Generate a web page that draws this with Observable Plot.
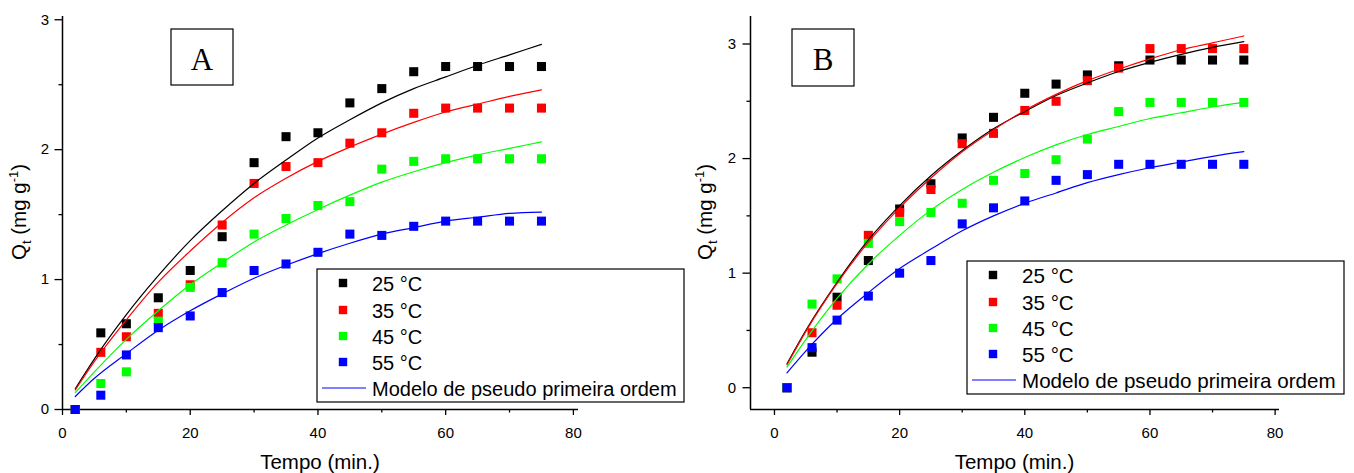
<!DOCTYPE html>
<html><head><meta charset="utf-8">
<script src="https://cdn.jsdelivr.net/npm/d3@7"></script>
<script src="https://cdn.jsdelivr.net/npm/@observablehq/plot@0.6"></script>
<style>
html,body{margin:0;padding:0;background:#fff;}
#wrap{display:flex;width:1354px;height:473px;overflow:hidden;}
#wrap svg{display:block;overflow:visible;}
</style></head><body><div id="wrap"></div>
<script>
// ---------- data ----------
const times = [2, 6, 10, 15, 20, 25, 30, 35, 40, 45, 50, 55, 60, 65, 70, 75];
const fitTimes = [2, 5, 10, 15, 20, 25, 30, 35, 40, 45, 50, 55, 60, 65, 70, 75];
const seriesLabels = ["25 °C", "35 °C", "45 °C", "55 °C"];
const seriesColors = ["#000000", "#ff0000", "#00ff00", "#0000ff"];
const modelLabel = "Modelo de pseudo primeira ordem";
const xTitle = "Tempo (min.)";
const panelNames = ["A", "B"];
const xTicks = [0, 20, 40, 60, 80];
const xMinorTicks = [10, 30, 50, 70];
const yTicks = [0, 1, 2, 3];
const yMinorTicks = [0.5, 1.5, 2.5];

// Panel A observed
const a25 = [0, 0.59, 0.66, 0.86, 1.07, 1.33, 1.90, 2.10, 2.13, 2.36, 2.47, 2.60, 2.64, 2.64, 2.64, 2.64];
const a35 = [0, 0.44, 0.56, 0.74, 0.96, 1.42, 1.74, 1.87, 1.90, 2.05, 2.13, 2.28, 2.32, 2.32, 2.32, 2.32];
const a45 = [0, 0.20, 0.29, 0.68, 0.94, 1.13, 1.35, 1.47, 1.57, 1.60, 1.85, 1.91, 1.93, 1.93, 1.93, 1.93];
const a55 = [0, 0.11, 0.42, 0.63, 0.72, 0.90, 1.07, 1.12, 1.21, 1.35, 1.34, 1.41, 1.45, 1.45, 1.45, 1.45];
// Panel A model curves
const aFit25 = [0.16, 0.39, 0.73, 1.03, 1.30, 1.53, 1.74, 1.92, 2.09, 2.23, 2.36, 2.47, 2.56, 2.65, 2.73, 2.81];
const aFit35 = [0.15, 0.37, 0.69, 0.98, 1.22, 1.44, 1.63, 1.78, 1.91, 2.02, 2.12, 2.21, 2.29, 2.35, 2.41, 2.46];
const aFit45 = [0.13, 0.29, 0.54, 0.76, 0.96, 1.13, 1.29, 1.42, 1.54, 1.65, 1.75, 1.83, 1.90, 1.96, 2.01, 2.06];
const aFit55 = [0.10, 0.24, 0.43, 0.61, 0.76, 0.89, 1.01, 1.11, 1.20, 1.28, 1.35, 1.40, 1.45, 1.48, 1.51, 1.52];

// Panel B observed
const b25 = [0, 0.31, 0.79, 1.11, 1.56, 1.78, 2.18, 2.36, 2.57, 2.65, 2.73, 2.81, 2.86, 2.86, 2.86, 2.86];
const b35 = [0, 0.48, 0.72, 1.33, 1.53, 1.73, 2.13, 2.22, 2.42, 2.50, 2.68, 2.79, 2.96, 2.96, 2.96, 2.96];
const b45 = [0, 0.73, 0.95, 1.26, 1.45, 1.53, 1.61, 1.81, 1.87, 1.99, 2.17, 2.41, 2.49, 2.49, 2.49, 2.49];
const b55 = [0, 0.35, 0.59, 0.80, 1.00, 1.11, 1.43, 1.57, 1.63, 1.81, 1.86, 1.95, 1.95, 1.95, 1.95, 1.95];
// Panel B model curves
const bFit25 = [0.21, 0.50, 0.92, 1.29, 1.59, 1.85, 2.07, 2.26, 2.41, 2.55, 2.66, 2.76, 2.84, 2.91, 2.97, 3.02];
const bFit35 = [0.20, 0.49, 0.91, 1.27, 1.57, 1.83, 2.06, 2.25, 2.42, 2.56, 2.68, 2.78, 2.87, 2.95, 3.01, 3.07];
const bFit45 = [0.18, 0.42, 0.78, 1.08, 1.33, 1.55, 1.73, 1.88, 2.01, 2.12, 2.21, 2.28, 2.35, 2.40, 2.45, 2.49];
const bFit55 = [0.13, 0.32, 0.60, 0.83, 1.04, 1.21, 1.37, 1.50, 1.61, 1.70, 1.79, 1.86, 1.92, 1.97, 2.02, 2.06];

// ---------- drawing ----------
const FONT = "'Liberation Sans', Arial, sans-serif";
const SERIF = "'Liberation Serif', 'Times New Roman', serif";

function drawPanel(o) {
  const pts = [], fits = [];
  o.obs.forEach((vals, i) => vals.forEach((v, j) => pts.push({t: times[j], q: v, label: seriesLabels[i]})));
  o.fit.forEach((vals, i) => vals.forEach((v, j) => fits.push({t: fitTimes[j], q: v, label: seriesLabels[i]})));
  const H = 473;
  const svg = Plot.plot({
    width: o.width, height: H,
    marginLeft: o.ml, marginRight: o.mr, marginTop: 16, marginBottom: 64,
    style: {fontFamily: FONT, fontSize: "15px", color: "#000", background: "transparent", overflow: "visible"},
    x: {domain: o.xDomain},
    y: {domain: o.yDomain},
    color: {domain: seriesLabels, range: seriesColors},
    marks: [
      Plot.axisX(xTicks, {tickSize: 6, tickPadding: 12, fontSize: 15, label: null, strokeWidth: 1.3, tickFormat: d => String(d)}),
      Plot.axisX(xMinorTicks, {tickSize: 3.5, tickFormat: () => "", label: null, strokeWidth: 1.3}),
      Plot.axisY(yTicks, {tickSize: 7.5, tickPadding: o.ytp, fontSize: 15, label: null, strokeWidth: 1.3, tickFormat: d => String(d)}),
      Plot.axisY(yMinorTicks, {tickSize: 3.5, tickFormat: () => "", label: null, strokeWidth: 1.3}),
      Plot.ruleX([o.xDomain[0]], {stroke: "#000", strokeWidth: 1.5}),
      Plot.ruleY([o.yDomain[0]], {stroke: "#000", strokeWidth: 1.5}),
      Plot.dot(pts, {x: "t", y: "q", symbol: "square", r: 5.1, fill: "label", stroke: null}),
      Plot.line(fits, {x: "t", y: "q", z: "label", stroke: "label", strokeWidth: 1.2, curve: "monotone-x"})
    ]
  });
  const s = d3.select(svg);
  const left = o.ml, right = o.width - o.mr;
  // x title
  s.append("text").attr("x", (left + right) / 2).attr("y", 469)
    .attr("text-anchor", "middle").attr("font-family", FONT).attr("font-size", 20.5).attr("fill", "#000")
    .text(xTitle);
  // y title with subscript / superscript
  const yt = s.append("text").attr("transform", `translate(${o.ylx},212) rotate(-90)`)
    .attr("text-anchor", "middle").attr("font-family", FONT).attr("font-size", 20.5).attr("fill", "#000");
  yt.append("tspan").text("Q");
  yt.append("tspan").attr("font-size", 13).attr("dy", 5).text("t");
  yt.append("tspan").attr("dy", -5).text(" (mg g");
  yt.append("tspan").attr("font-size", 13).attr("dy", -8).text("-1");
  yt.append("tspan").attr("dy", 8).text(")");
  // panel letter box
  const lb = o.letterBox;
  s.append("rect").attr("x", lb.x).attr("y", lb.y).attr("width", lb.w).attr("height", lb.h)
    .attr("fill", "white").attr("stroke", "#000").attr("stroke-width", 1.2);
  s.append("text").attr("x", lb.x + lb.w / 2).attr("y", lb.y + 41).attr("text-anchor", "middle")
    .attr("font-family", SERIF).attr("font-size", 31).attr("fill", "#000").text(o.name);
  // legend
  const lg = o.legend;
  const g = s.append("g").attr("transform", `translate(${lg.x},${lg.y})`).attr("text-anchor", "start");
  g.append("rect").attr("x", 0).attr("y", 0).attr("width", lg.w).attr("height", 133)
    .attr("fill", "white").attr("stroke", "#000").attr("stroke-width", 1.2);
  const rows = [14, 41, 67, 93];
  seriesLabels.forEach((lab, i) => {
    g.append("rect").attr("x", 26 - 4.2).attr("y", rows[i] - 4.2).attr("width", 8.4).attr("height", 8.4)
      .attr("fill", seriesColors[i]);
    g.append("text").attr("x", 55).attr("y", rows[i] + 8).attr("text-anchor", "start")
      .attr("font-family", FONT).attr("font-size", lg.fs).attr("fill", "#000").text(lab);
  });
  g.append("line").attr("x1", 5).attr("x2", 49).attr("y1", 119).attr("y2", 119)
    .attr("stroke", seriesColors[3]).attr("stroke-width", 1.2);
  g.append("text").attr("x", 55).attr("y", 127).attr("text-anchor", "start")
    .attr("font-family", FONT).attr("font-size", lg.fs).attr("fill", "#000").text(modelLabel);
  return svg;
}

const wrap = document.getElementById("wrap");
wrap.appendChild(drawPanel({
  name: panelNames[0], width: 690, ml: 62, mr: 112, ytp: 6,
  xDomain: [0, 80.8], yDomain: [0, 3.025],
  obs: [a25, a35, a45, a55], fit: [aFit25, aFit35, aFit45, aFit55],
  ylx: 26, letterBox: {x: 171, y: 29, w: 62, h: 56},
  legend: {x: 317, y: 269, w: 367, fs: 20}
}));
wrap.appendChild(drawPanel({
  name: panelNames[1], width: 664, ml: 60, mr: 75, ytp: 7,
  xDomain: [-3.83, 80.7], yDomain: [-0.19, 3.24],
  obs: [b25, b35, b45, b55], fit: [bFit25, bFit35, bFit45, bFit55],
  ylx: 22, letterBox: {x: 102, y: 29, w: 62, h: 57},
  legend: {x: 277, y: 261, w: 377, fs: 20.6}
}));
</script></body></html>
